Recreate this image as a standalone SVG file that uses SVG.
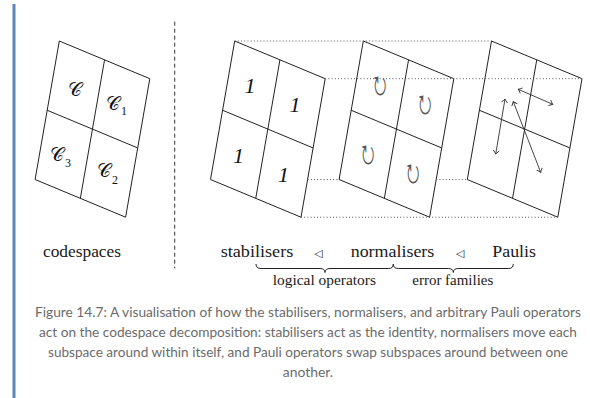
<svg xmlns="http://www.w3.org/2000/svg" xmlns:xlink="http://www.w3.org/1999/xlink" width="590" height="398" viewBox="0 0 590 398">
<style>
.grid{fill:none;stroke:#222;stroke-width:1;stroke-linejoin:miter}
.dot{fill:none;stroke:#555;stroke-width:1;stroke-dasharray:1 2.2}
.cm{font-family:'Liberation Serif',serif;fill:#1a1a1a}
.cal{font-family:'Liberation Serif',serif;font-size:19px;fill:#111;text-anchor:middle}
.sub{font-family:'Liberation Serif',serif;font-size:12px;fill:#111;text-anchor:middle}
.one{font-family:'Liberation Serif',serif;font-style:italic;font-size:22px;fill:#111;text-anchor:middle}
.rot{font-family:'Noto Sans Math','Noto Sans Symbols','DejaVu Sans',sans-serif;font-size:16px;fill:#555;text-anchor:middle}
.tri{font-family:'DejaVu Sans',sans-serif;font-size:11px;fill:#222;text-anchor:middle}
.arr{fill:none;stroke:#333;stroke-width:0.9;marker-start:url(#ah);marker-end:url(#ah)}
.brace{fill:none;stroke:#222;stroke-width:1}
.cap{font-family:Lato,'Open Sans',sans-serif;font-size:14px;fill:#6b6b6b;text-anchor:middle}
</style>
<defs>
<g id="g4">
<path class="grid" d="M0,0 L90.5,37.7 L66.3,176.2 L-24.2,138.5 Z M-12.1,69.25 L78.4,106.95 M45.25,18.85 L21.05,157.35"/>
</g>
<marker id="ah" viewBox="-5 -4 6 8" markerWidth="6" markerHeight="8" refX="0" refY="0" orient="auto-start-reverse" markerUnits="userSpaceOnUse">
<path d="M-3.5,-3 Q-1,-0.6 0,0 Q-1,0.6 -3.5,3" fill="none" stroke="#333" stroke-width="0.9"/>
</marker>
</defs>
<rect x="12.5" y="4" width="3" height="394" fill="#5f86b8"/>

<g id="codespaces">
<use xlink:href="#g4" href="#g4" transform="translate(59.3,41)"/>
<text class="cal" x="75" y="96">𝒞</text>
<text class="cal" x="113" y="110">𝒞</text><text class="sub" x="124" y="115">1</text>
<text class="cal" x="57" y="161">𝒞</text><text class="sub" x="68" y="167">3</text>
<text class="cal" x="104" y="177">𝒞</text><text class="sub" x="115" y="184">2</text>
<text class="cm" x="43" y="257" font-size="17.5" textLength="78" lengthAdjust="spacingAndGlyphs">codespaces</text>
</g>

<line x1="174.7" y1="21.7" x2="174.7" y2="268.3" stroke="#333" stroke-width="1" stroke-dasharray="4 3"/>

<g id="stabilisers">
<use xlink:href="#g4" href="#g4" transform="translate(234.7,41)"/>
<text class="one" x="250" y="92.5">1</text>
<text class="one" x="295" y="111.5">1</text>
<text class="one" x="238.5" y="162.5">1</text>
<text class="one" x="283.5" y="181.5">1</text>
</g>

<g id="normalisers">
<use xlink:href="#g4" href="#g4" transform="translate(363.3,41)"/>
<text class="rot" transform="translate(379.8,85) scale(0.8,1.4)" y="5">↻</text>
<text class="rot" transform="translate(424.8,104) scale(0.8,1.4)" y="5">↻</text>
<text class="rot" transform="translate(367.8,154) scale(0.8,1.4)" y="5">↻</text>
<text class="rot" transform="translate(412.8,173) scale(0.8,1.4)" y="5">↻</text>
</g>

<g id="paulis">
<use xlink:href="#g4" href="#g4" transform="translate(491.5,41)"/>
<line class="arr" x1="518.3" y1="89.3" x2="552.7" y2="104.3"/>
<line class="arr" x1="505" y1="99" x2="495.7" y2="154"/>
<line class="arr" x1="513.3" y1="101.7" x2="540.7" y2="172.3"/>
</g>

<g id="connectors">
<line class="dot" x1="234.7" y1="41" x2="491.5" y2="41"/>
<line class="dot" x1="325.2" y1="78.7" x2="582" y2="78.7"/>
<line class="dot" x1="301" y1="217.2" x2="557.8" y2="217.2"/>
<line class="dot" x1="307.6" y1="179.5" x2="339.1" y2="179.5"/>
<line class="dot" x1="436.2" y1="179.5" x2="467.3" y2="179.5"/>
</g>

<g id="labels">
<text class="cm" x="220.7" y="257.3" font-size="17.5" textLength="72.6" lengthAdjust="spacingAndGlyphs">stabilisers</text>
<text class="tri" x="318.3" y="256.5">◁</text>
<text class="cm" x="350.7" y="257.3" font-size="17.5" textLength="83.6" lengthAdjust="spacingAndGlyphs">normalisers</text>
<text class="tri" x="460" y="256.5">◁</text>
<text class="cm" x="492.3" y="257.3" font-size="17.5" textLength="43.7" lengthAdjust="spacingAndGlyphs">Paulis</text>
<path class="brace" d="M256,264 Q256,268.5 261,268.5 L320,268.5 Q325,268.5 325,272.5 Q325,268.5 330,268.5 L388.5,268.5 Q393.3,268.5 393.3,264"/>
<path class="brace" d="M393.3,264 Q393.3,268.5 398.3,268.5 L448.3,268.5 Q453.3,268.5 453.3,272.5 Q453.3,268.5 458.3,268.5 L508.3,268.5 Q513.3,268.5 513.3,264"/>
<text class="cm" x="272.7" y="285" font-size="14.5" textLength="103.3" lengthAdjust="spacingAndGlyphs">logical operators</text>
<text class="cm" x="412.3" y="285" font-size="14.5" textLength="81" lengthAdjust="spacingAndGlyphs">error families</text>
</g>

<g id="caption">
<text class="cap" x="308" y="316.7" textLength="546" lengthAdjust="spacingAndGlyphs">Figure 14.7: A visualisation of how the stabilisers, normalisers, and arbitrary Pauli operators</text>
<text class="cap" x="308" y="336.7" textLength="538" lengthAdjust="spacingAndGlyphs">act on the codespace decomposition: stabilisers act as the identity, normalisers move each</text>
<text class="cap" x="308" y="356.7" textLength="520" lengthAdjust="spacingAndGlyphs">subspace around within itself, and Pauli operators swap subspaces around between one</text>
<text class="cap" x="308" y="376.7" textLength="50.3" lengthAdjust="spacingAndGlyphs">another.</text>
</g>
</svg>
